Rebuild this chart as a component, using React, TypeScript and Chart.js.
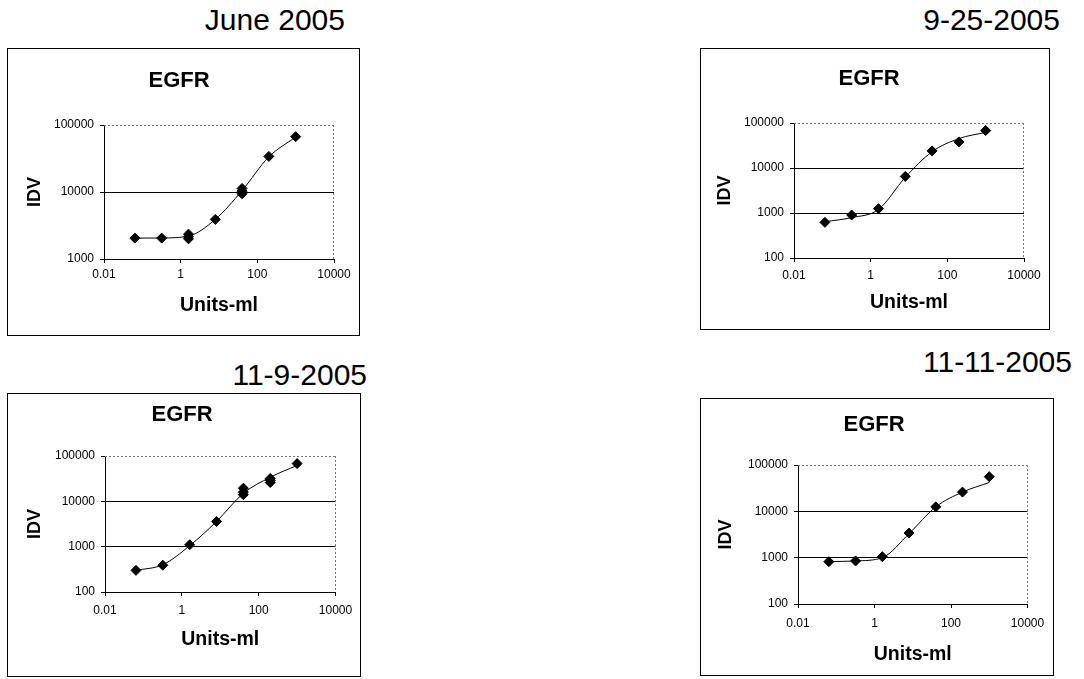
import React, { useEffect, useRef } from "react";
import { Chart, registerables } from "chart.js";
Chart.register(...registerables);

// ---------- data ----------
const doses = [0.064, 0.32, 1.6, 8, 40, 200, 1000];
const xTicks = [0.01, 1, 100, 10000];

const juneIDV = [2050, 2050, 2150, 3900, 10300, 34000, 67000];
const juneFit = [2050, 2060, 2200, 3900, 10500, 33500, 66000];
const juneRepDoses = [1.6, 1.6, 40, 40];
const juneRepIDV = [2000, 2350, 9400, 11300];
const juneYTicks = [1000, 10000, 100000];

const sep25IDV = [620, 900, 1250, 6500, 24000, 38000, 68000];
const sep25Fit = [640, 790, 1200, 6200, 23000, 45000, 62000];
const sep25RepDoses: number[] = [];
const sep25RepIDV: number[] = [];
const sep25YTicks = [100, 1000, 10000, 100000];

const nov9IDV = [300, 390, 1100, 3600, 16000, 29000, 68000];
const nov9Fit = [300, 400, 1050, 3600, 15000, 34000, 62000];
const nov9RepDoses = [40, 40, 200, 200];
const nov9RepIDV = [14000, 19500, 26000, 32000];
const nov9YTicks = [100, 1000, 10000, 100000];

const nov11IDV = [820, 850, 1050, 3400, 12500, 26000, 56000];
const nov11Fit = [820, 850, 1000, 3300, 12500, 26000, 42000];
const nov11RepDoses: number[] = [];
const nov11RepIDV: number[] = [];
const nov11YTicks = [100, 1000, 10000, 100000];

const dateLabels = ["June 2005", "9-25-2005", "11-9-2005", "11-11-2005"];
const chartTitle = "EGFR";
const yTitle = "IDV";
const xTitle = "Units-ml";

// ---------- layout ----------
type PanelLayout = {
  box: [number, number, number, number];
  plot: [number, number, number, number];
  titleY: number;
  idvX: number;
  tickY: number;
  unitsY: number;
  dateRight: number;
  dateY: number;
};

const layouts: PanelLayout[] = [
  { box: [7, 48, 353, 288], plot: [104, 125, 334, 259], titleY: 81, idvX: 35, tickY: 275, unitsY: 306, dateRight: 345, dateY: 20 },
  { box: [700, 48, 350, 282], plot: [794, 123, 1024, 258], titleY: 79, idvX: 725, tickY: 276, unitsY: 303, dateRight: 1060, dateY: 20 },
  { box: [7, 393, 354, 284], plot: [105, 456, 340, 592], titleY: 415, idvX: 35, tickY: 611, unitsY: 640, dateRight: 367, dateY: 375 },
  { box: [700, 398, 354, 278], plot: [798, 465, 1033, 604], titleY: 425, idvX: 726, tickY: 624, unitsY: 655, dateRight: 1072, dateY: 362 },
];

const FONT = "'Liberation Sans', Arial, Helvetica, sans-serif";

const framePlugin = {
  id: "plotFrame",
  beforeDatasetsDraw(chart: any) {
    const { left, top, right, bottom } = chart.chartArea;
    const ctx = chart.ctx;
    ctx.save();
    ctx.strokeStyle = "#777";
    ctx.lineWidth = 1;
    ctx.setLineDash([2, 2]);
    ctx.beginPath();
    ctx.moveTo(left, Math.round(top) + 0.5);
    ctx.lineTo(right, Math.round(top) + 0.5);
    ctx.moveTo(Math.round(right) - 0.5, top);
    ctx.lineTo(Math.round(right) - 0.5, bottom);
    ctx.stroke();
    ctx.restore();
  },
};

type PanelProps = {
  layout: PanelLayout;
  date: string;
  idv: number[];
  fit: number[];
  repDoses: number[];
  repIDV: number[];
  yTicks: number[];
};

function Panel({ layout, date, idv, fit, repDoses, repIDV, yTicks }: PanelProps) {
  const ref = useRef<HTMLCanvasElement | null>(null);
  const [bx, by, bw, bh] = layout.box;
  const cx = bx + 1;
  const cy = by + 1;
  const W = bw - 2;
  const H = bh - 2;

  useEffect(() => {
    if (!ref.current) return;
    const [pl, pt, pr, pb] = layout.plot;
    const titleSize = 22;
    const titleLH = titleSize * 1.2;
    const yTitleLH = 18 * 1.2;
    const xTitleLH = 19.5 * 1.2;
    const tickLH = 12 * 1.2;
    const padLeft = Math.max(0, layout.idvX - cx - yTitleLH / 2);
    const padRight = cx + W - pr;
    const yWidth = pl - cx - padLeft;
    const xHeight = cy + H - pb;
    const tTop = layout.titleY - cy - titleLH / 2;
    const tBottom = pt - cy - tTop - titleLH;
    const xTickPad = layout.tickY - pb - 4 - tickLH / 2;
    const xTitlePadBottom = cy + H - layout.unitsY - xTitleLH / 2;
    const yMin = yTicks[0];
    const yMax = yTicks[yTicks.length - 1];

    const chart = new Chart(ref.current, {
      type: "scatter",
      data: {
        datasets: [
          {
            label: "fit",
            data: doses.map((d, i) => ({ x: d, y: fit[i] })),
            showLine: true,
            borderColor: "#000",
            borderWidth: 1,
            pointRadius: 0,
            cubicInterpolationMode: "monotone",
          } as any,
          {
            label: "IDV",
            data: doses.map((d, i) => ({ x: d, y: idv[i] })),
            showLine: false,
            pointStyle: "rectRot",
            pointRadius: 5,
            backgroundColor: "#000",
            borderColor: "#000",
            borderWidth: 1,
          },
          {
            label: "replicates",
            data: repDoses.map((d, i) => ({ x: d, y: repIDV[i] })),
            showLine: false,
            pointStyle: "rectRot",
            pointRadius: 5,
            backgroundColor: "#000",
            borderColor: "#000",
            borderWidth: 1,
          },
        ],
      },
      options: {
        animation: false,
        responsive: false,
        devicePixelRatio: 1,
        layout: { padding: { left: padLeft, right: padRight, top: 0, bottom: 0 } },
        plugins: {
          legend: { display: false },
          tooltip: { enabled: false },
          title: {
            display: true,
            text: chartTitle,
            color: "#000",
            font: { family: FONT, size: titleSize, weight: "bold", lineHeight: 1.2 },
            padding: { top: tTop, bottom: tBottom },
          },
        },
        scales: {
          x: {
            type: "logarithmic",
            min: 0.01,
            max: 10000,
            afterBuildTicks: (s: any) => {
              s.ticks = xTicks.map((v) => ({ value: v }));
            },
            afterFit: (s: any) => {
              s.height = xHeight;
            },
            ticks: {
              autoSkip: false,
              maxRotation: 0,
              padding: xTickPad,
              color: "#000",
              font: { family: FONT, size: 12, lineHeight: 1.2 },
              callback: (v: any) => String(v),
            },
            grid: { drawOnChartArea: false, drawTicks: true, tickLength: 4, color: "#000", tickColor: "#000" },
            border: { display: true, color: "#000", width: 1 },
            title: {
              display: true,
              text: xTitle,
              color: "#000",
              font: { family: FONT, size: 19.5, weight: "bold", lineHeight: 1.2 },
              padding: { top: 0, bottom: xTitlePadBottom },
            },
          },
          y: {
            type: "logarithmic",
            min: yMin,
            max: yMax,
            afterBuildTicks: (s: any) => {
              s.ticks = yTicks.map((v) => ({ value: v }));
            },
            afterFit: (s: any) => {
              s.width = yWidth;
            },
            ticks: {
              autoSkip: false,
              padding: 6,
              color: "#000",
              font: { family: FONT, size: 12, lineHeight: 1.2 },
              callback: (v: any) => String(v),
            },
            grid: {
              drawTicks: true,
              tickLength: 4,
              lineWidth: 1,
              color: (ctx: any) => (ctx.tick && ctx.tick.value === yMax ? "rgba(0,0,0,0)" : "#000"),
              tickColor: "#000",
            },
            border: { display: true, color: "#000", width: 1 },
            title: {
              display: true,
              text: yTitle,
              color: "#000",
              font: { family: FONT, size: 18, weight: "bold", lineHeight: 1.2 },
              padding: { top: 0, bottom: 0 },
            },
          },
        },
      },
      plugins: [framePlugin],
    });
    return () => chart.destroy();
  }, []);

  const dateFont = 30;
  return (
    <>
      <div
        style={{
          position: "absolute",
          left: layout.dateRight - 300,
          width: 300,
          top: layout.dateY - 14.7,
          textAlign: "right",
          fontFamily: FONT,
          fontSize: dateFont,
          lineHeight: dateFont + "px",
          color: "#000",
          whiteSpace: "nowrap",
        }}
      >
        {date}
      </div>
      <div
        style={{
          position: "absolute",
          left: bx,
          top: by,
          width: bw,
          height: bh,
          boxSizing: "border-box",
          border: "1px solid #000",
          background: "#fff",
        }}
      >
        <canvas ref={ref} width={W} height={H} style={{ display: "block", width: W, height: H }} />
      </div>
    </>
  );
}

export default function App() {
  return (
    <div style={{ position: "absolute", left: 0, top: 0, width: 1084, height: 679, background: "#fff", overflow: "hidden" }}>
      <Panel layout={layouts[0]} date={dateLabels[0]} idv={juneIDV} fit={juneFit} repDoses={juneRepDoses} repIDV={juneRepIDV} yTicks={juneYTicks} />
      <Panel layout={layouts[1]} date={dateLabels[1]} idv={sep25IDV} fit={sep25Fit} repDoses={sep25RepDoses} repIDV={sep25RepIDV} yTicks={sep25YTicks} />
      <Panel layout={layouts[2]} date={dateLabels[2]} idv={nov9IDV} fit={nov9Fit} repDoses={nov9RepDoses} repIDV={nov9RepIDV} yTicks={nov9YTicks} />
      <Panel layout={layouts[3]} date={dateLabels[3]} idv={nov11IDV} fit={nov11Fit} repDoses={nov11RepDoses} repIDV={nov11RepIDV} yTicks={nov11YTicks} />
    </div>
  );
}
